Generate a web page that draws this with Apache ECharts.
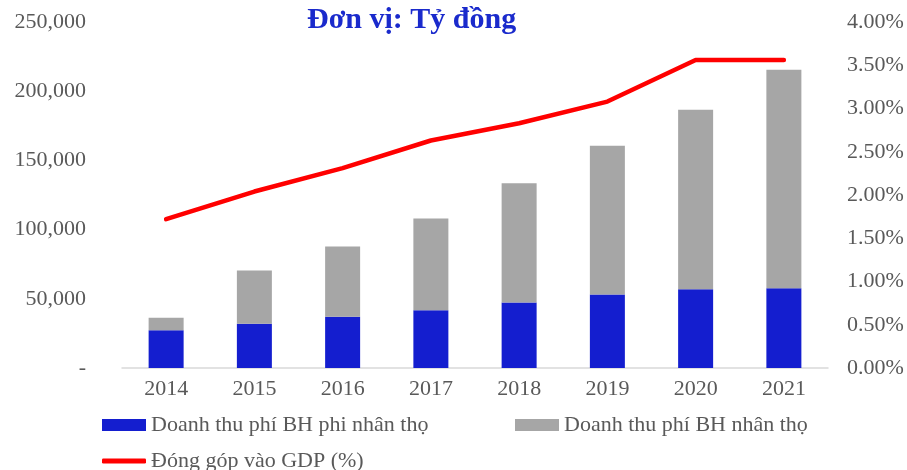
<!DOCTYPE html>
<html>
<head>
<meta charset="utf-8">
<script src="https://cdn.jsdelivr.net/npm/echarts@6/dist/echarts.min.js"></script>
<style>
  html, body { margin: 0; padding: 0; background: #fff; }
  #chart { width: 907px; height: 470px; }
</style>
</head>
<body>
<div id="chart"></div>
<script>
// số liệu
const years = ['2014', '2015', '2016', '2017', '2018', '2019', '2020', '2021'];
const phiNhanTho = [27300, 31900, 37000, 41800, 47300, 53100, 56900, 57700];
const nhanTho = [9000, 38500, 50800, 66200, 86200, 107400, 129700, 157800];
const gdp = [1.72, 2.04, 2.31, 2.63, 2.83, 3.08, 3.56, 3.56];

const names = ['Doanh thu phí BH phi nhân thọ', 'Doanh thu phí BH nhân thọ', 'Đóng góp vào GDP (%)'];
const font = 'Liberation Serif, Times New Roman, serif';
const txt = '#595959';

let chart = echarts.init(document.getElementById('chart'));

const legendText = { color: txt, fontFamily: font, fontSize: 22 };

chart.setOption({
  animation: false,
  title: {
    text: 'Đơn vị: Tỷ đồng',
    left: 302,
    top: 0,
    textStyle: { color: '#1a2acc', fontFamily: font, fontSize: 30, fontWeight: 'bold' }
  },
  grid: { left: 122, right: 79, top: 22, bottom: 102 },
  legend: [
    { data: [names[0]], left: 102, top: 414, padding: 0, itemWidth: 44, itemHeight: 12, itemGap: 4, icon: 'rect', textStyle: legendText },
    { data: [names[1]], left: 515, top: 414, padding: 0, itemWidth: 44, itemHeight: 12, icon: 'rect', textStyle: legendText },
    { data: [names[2]], left: 102, top: 450, padding: 0, itemWidth: 44, itemHeight: 5, icon: 'roundRect', textStyle: legendText }
  ],
  xAxis: {
    type: 'category',
    data: years,
    axisLine: { lineStyle: { color: '#d9d9d9', width: 1.5 } },
    axisTick: { show: false },
    axisLabel: { color: txt, fontFamily: font, fontSize: 22, margin: 10 }
  },
  yAxis: [
    {
      type: 'value',
      min: 0, max: 250000, interval: 50000,
      splitLine: { show: false },
      axisLabel: {
        color: txt, fontFamily: font, fontSize: 22, margin: 36,
        formatter: v => v === 0 ? '-' : v.toLocaleString('en-US')
      }
    },
    {
      type: 'value',
      min: 0, max: 4, interval: 0.5,
      splitLine: { show: false },
      axisLabel: {
        color: txt, fontFamily: font, fontSize: 22, margin: 19,
        formatter: v => v.toFixed(2) + '%'
      }
    }
  ],
  series: [
    { name: names[0], type: 'bar', stack: 'dt', data: phiNhanTho, barWidth: 35, itemStyle: { color: '#141ecf' } },
    { name: names[1], type: 'bar', stack: 'dt', data: nhanTho, barWidth: 35, itemStyle: { color: '#a6a6a6' } },
    {
      name: names[2], type: 'line', yAxisIndex: 1, data: gdp,
      showSymbol: false, symbol: 'none',
      lineStyle: { color: '#ff0000', width: 4.5, cap: 'round', join: 'round' },
      itemStyle: { color: '#ff0000' }
    }
  ]
});
</script>
</body>
</html>
